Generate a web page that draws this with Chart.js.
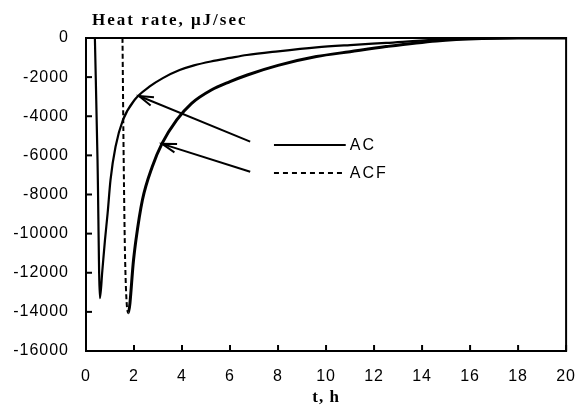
<!DOCTYPE html>
<html>
<head>
<meta charset="utf-8">
<title>Heat rate</title>
<script src="https://cdn.jsdelivr.net/npm/chart.js"></script>
<style>
	body { margin: 0; background: #fff; }
	#wrap { width: 583px; height: 408px; }
</style>
</head>
<body>
<div id="wrap"><canvas id="myChart" width="583" height="408"></canvas></div>
<script>
// time, h
const acTime = [0.37, 0.48, 0.58, 0.68, 0.79, 0.90, 1.02, 1.23, 1.54, 2.02, 2.64, 3.2, 3.9, 4.5, 5.2, 6.0, 6.7, 8.0, 9.6, 11, 12.5, 14.5, 16.5, 18, 20];
// heat rate, uJ/sec
const acHeat = [0, -6240, -13300, -11900, -10330, -8970, -7260, -5560, -4190, -3170, -2490, -2050, -1640, -1400, -1200, -1020, -870, -680, -480, -360, -250, -100, -20, 0, 0];

const acfTime = [1.52, 1.57, 1.63, 1.76, 1.98, 2.08, 2.35, 2.76, 3.17, 3.78, 4.4, 5.22, 6.0, 6.72, 8.0, 9.6, 11, 12.5, 14.6, 16.5, 18, 20];
const acfHeat = [0, -6240, -11350, -14050, -11350, -10330, -8280, -6580, -5390, -4190, -3340, -2660, -2230, -1890, -1400, -950, -700, -440, -150, -30, 0, 0];

const xTicks = [0, 2, 4, 6, 8, 10, 12, 14, 16, 18, 20];
const yTicks = [0, -2000, -4000, -6000, -8000, -10000, -12000, -14000, -16000];

// labels drawn inside the plot (data coords)
const keyNames = ['AC', 'ACF'];
const keyLineT = [7.83, 10.82];
const keyLineY = [-5470, -6900];
const arrowTail = [[6.84, -5300], [6.84, -6835]];
const arrowHead = [[2.21, -2965], [3.17, -5410]];

function toPoints(xs, ys){
	let pts = [];
	for(var i = 0; i < xs.length; i++){
		pts.push({x: xs[i], y: ys[i]});
	}
	return pts;
}

const dipIndex = acfHeat.indexOf(Math.min(...acfHeat));

const sansFont = '"Liberation Sans", Arial, sans-serif';
const serifFont = '"Liberation Serif", "Times New Roman", serif';

const extras = {
	id: 'extras',
	beforeDraw: function(chart){
		chart.ctx.letterSpacing = '1px';
	},
	afterDatasetsDraw: function(chart){
		const ctx = chart.ctx;
		const xs = chart.scales.x;
		const ys = chart.scales.y;
		const area = chart.chartArea;
		ctx.save();
		ctx.strokeStyle = '#000';
		ctx.fillStyle = '#000';

		// frame
		ctx.lineWidth = 2;
		ctx.strokeRect(area.left, area.top, area.right - area.left, area.bottom - area.top);

		// inward tick marks
		ctx.lineWidth = 2;
		xTicks.forEach(function(v){
			let px = xs.getPixelForValue(v);
			ctx.beginPath();
			ctx.moveTo(px, area.bottom);
			ctx.lineTo(px, area.bottom - 6);
			ctx.stroke();
		});
		yTicks.forEach(function(v){
			let py = ys.getPixelForValue(v);
			ctx.beginPath();
			ctx.moveTo(area.left, py);
			ctx.lineTo(area.left + 6, py);
			ctx.stroke();
		});

		// key lines + names
		ctx.lineWidth = 2;
		for(var i = 0; i < keyNames.length; i++){
			let y = ys.getPixelForValue(keyLineY[i]);
			ctx.setLineDash(i == 1 ? [5, 4] : []);
			ctx.beginPath();
			ctx.moveTo(xs.getPixelForValue(keyLineT[0]), y);
			ctx.lineTo(xs.getPixelForValue(keyLineT[1]), y);
			ctx.stroke();
			ctx.setLineDash([]);
			ctx.font = '16px ' + sansFont;
			ctx.letterSpacing = '2px';
			ctx.textAlign = 'left';
			ctx.textBaseline = 'middle';
			ctx.fillText(keyNames[i], xs.getPixelForValue(keyLineT[1]) + 4, y + 1);
		}

		// arrows
		ctx.lineWidth = 2;
		for(var j = 0; j < arrowTail.length; j++){
			let x0 = xs.getPixelForValue(arrowTail[j][0]);
			let y0 = ys.getPixelForValue(arrowTail[j][1]);
			let x1 = xs.getPixelForValue(arrowHead[j][0]);
			let y1 = ys.getPixelForValue(arrowHead[j][1]);
			let ang = Math.atan2(y1 - y0, x1 - x0);
			ctx.beginPath();
			ctx.moveTo(x0, y0);
			ctx.lineTo(x1, y1);
			ctx.stroke();
			ctx.beginPath();
			ctx.moveTo(x1 - 15 * Math.cos(ang - 0.3), y1 - 15 * Math.sin(ang - 0.3));
			ctx.lineTo(x1, y1);
			ctx.lineTo(x1 - 15 * Math.cos(ang + 0.3), y1 - 15 * Math.sin(ang + 0.3));
			ctx.stroke();
		}

		// y title at the top
		ctx.font = 'bold 17px ' + serifFont;
		ctx.letterSpacing = '2px';
		ctx.textAlign = 'left';
		ctx.textBaseline = 'middle';
		ctx.fillText('Heat rate, \u03bcJ/sec', 92, 21);
		ctx.restore();
	}
};

const data = {
	datasets: [{
		label: 'AC',
		data: toPoints(acTime, acHeat),
		borderColor: '#000',
		borderWidth: 2.2,
		pointRadius: 0,
		cubicInterpolationMode: 'monotone'
	}, {
		label: 'ACF',
		data: toPoints(acfTime, acfHeat),
		borderColor: '#000',
		borderWidth: 3,
		pointRadius: 0,
		cubicInterpolationMode: 'monotone',
		segment: {
			borderDash: function(ctx){ return ctx.p1DataIndex <= dipIndex ? [5, 3] : undefined; },
			borderWidth: function(ctx){ return ctx.p1DataIndex <= dipIndex ? 2 : undefined; }
		}
	}]
};

const config = {
	type: 'line',
	data: data,
	plugins: [extras],
	options: {
		responsive: false,
		animation: false,
		layout: { padding: { left: 0, right: 9, top: 38, bottom: 0 } },
		plugins: {
			legend: { display: false },
			tooltip: { enabled: false }
		},
		scales: {
			x: {
				type: 'linear',
				min: 0,
				max: 20,
				afterFit: function(scale){ scale.height = 57; },
				afterBuildTicks: function(scale){ scale.ticks = xTicks.map(function(v){ return {value: v}; }); },
				grid: { display: false },
				border: { display: true, color: '#000', width: 2 },
				ticks: { color: '#000', font: { family: sansFont, size: 16 }, padding: 8, maxRotation: 0,
					callback: function(v){ return String(v); } },
				title: { display: true, text: 't, h', color: '#000', font: { family: serifFont, size: 17, weight: 'bold' }, padding: { top: 0, bottom: 0 } }
			},
			y: {
				min: -16000,
				max: 0,
				afterFit: function(scale){ scale.width = 86; },
				afterBuildTicks: function(scale){ scale.ticks = yTicks.map(function(v){ return {value: v}; }); },
				grid: { display: false },
				border: { display: true, color: '#000', width: 2 },
				ticks: { color: '#000', font: { family: sansFont, size: 16 }, padding: 9,
					callback: function(v){ return String(v); } }
			}
		}
	}
};

var myChart = new Chart(document.getElementById('myChart'), config);
</script>
</body>
</html>
